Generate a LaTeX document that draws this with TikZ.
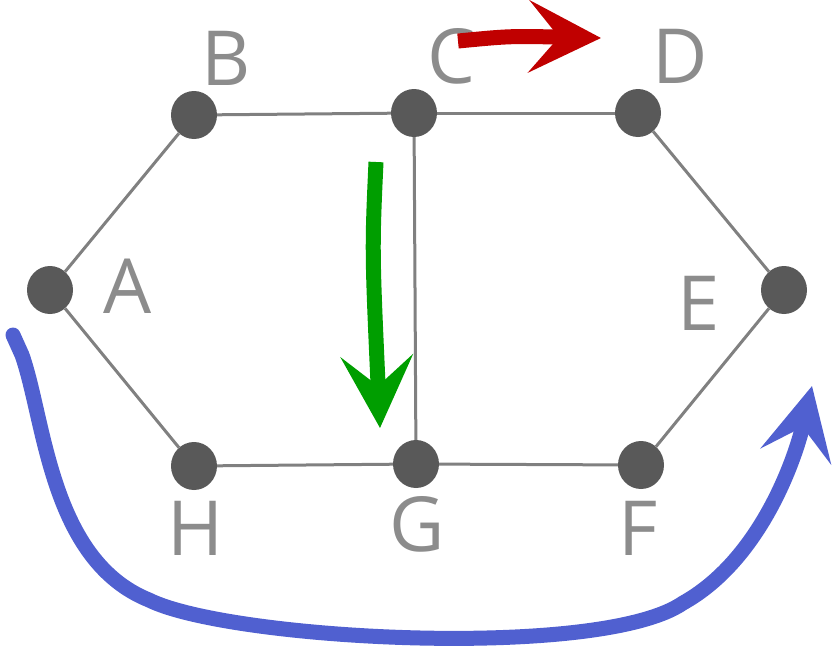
\documentclass[tikz,border=0pt]{standalone}
\usepackage{fontspec}
\setmainfont{Open Sans}
\usetikzlibrary{arrows.meta,shapes.geometric}
\definecolor{edgegray}{RGB}{128,128,128}
\definecolor{dotgray}{RGB}{89,89,89}
\definecolor{labgray}{RGB}{140,140,140}
\definecolor{redarr}{RGB}{192,0,0}
\definecolor{greenarr}{RGB}{0,158,0}
\definecolor{bluearr}{RGB}{80,96,208}
\begin{document}
\begin{tikzpicture}[x=1pt,y=-1pt,
  vert/.style={ellipse,fill=dotgray,minimum width=46pt,minimum height=48pt,inner sep=0pt},
  lab/.style={anchor=base,inner sep=0pt,text=labgray,font=\fontsize{76}{76}\selectfont},
  edge/.style={draw=edgegray,line width=3pt},
  bigarrow/.style={line width=15pt,-{Stealth[length=72pt,width=72pt,inset=30pt]}}]
\useasboundingbox (0,0) rectangle (833,649);
\node[vert] (A) at (50,290) {};
\node[vert] (B) at (194,115) {};
\node[vert] (C) at (414,113) {};
\node[vert] (D) at (638,113) {};
\node[vert] (E) at (784,290) {};
\node[vert] (F) at (641,465) {};
\node[vert] (G) at (416,464) {};
\node[vert] (H) at (194,466) {};
\draw[edge] (A) -- (B);
\draw[edge] (B) -- (C);
\draw[edge] (C) -- (D);
\draw[edge] (D) -- (E);
\draw[edge] (E) -- (F);
\draw[edge] (F) -- (G);
\draw[edge] (G) -- (H);
\draw[edge] (H) -- (A);
\draw[edge] (C) -- (G);
\node[lab] (lA) at (128,313) {A};
\node[lab] (lB) at (226,85) {B};
\node[lab] (lC) at (451,83) {C};
\node[lab] (lD) at (680,83) {D};
\node[lab] (lE) at (699,330) {E};
\node[lab] (lF) at (638,555) {F};
\node[lab] (lG) at (417,551) {G};
\node[lab] (lH) at (196,555) {H};
\coordinate (r0) at (458,41);
\coordinate (r1) at (601,38);
\draw[bigarrow,redarr] (r0) .. controls (510,36) .. (r1);
\coordinate (g0) at (376,162);
\coordinate (g1) at (380,428);
\draw[bigarrow,greenarr] (g0) .. controls (372,250) .. (g1);
\coordinate (b0) at (13,335);
\coordinate (b1) at (812,386);
\draw[bigarrow,bluearr,line cap=round] (b0) -- (22,355) .. controls (45,420) and (50,560) .. (149,600)
  .. controls (230,640) and (600,660) .. (683,603)
  .. controls (760,560) and (795,460) .. (b1);
\end{tikzpicture}
\end{document}
